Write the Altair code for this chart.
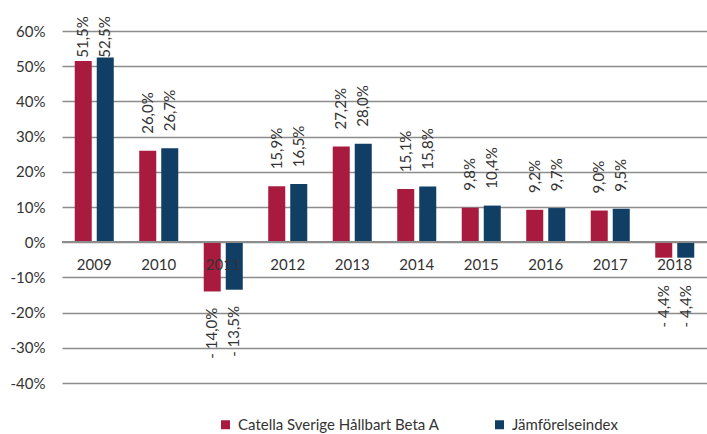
import altair as alt
import pandas as pd

years = ["2009", "2010", "2011", "2012", "2013", "2014", "2015", "2016", "2017", "2018"]
fund = [51.5, 26.0, -14.0, 15.9, 27.2, 15.1, 9.8, 9.2, 9.0, -4.4]
index = [52.5, 26.7, -13.5, 16.5, 28.0, 15.8, 10.4, 9.7, 9.5, -4.4]
series = ["Catella Sverige Hållbart Beta A", "Jämförelseindex"]
colors = ["#A91B3E", "#103E64"]
ytick_values = [-40, -30, -20, -10, 0, 10, 20, 30, 40, 50, 60]

def fmt(v):
    s = f"{abs(v):.1f}%".replace(".", ",")
    return ("- " + s) if v < 0 else s

rows = []
for i, y in enumerate(years):
    rows.append({"year": y, "series": series[0], "value": fund[i], "label": fmt(fund[i])})
    rows.append({"year": y, "series": series[1], "value": index[i], "label": fmt(index[i])})
df = pd.DataFrame(rows)
ydf = pd.DataFrame({"year": years})

FONT = "Lato"
TXT = "#333333"

xenc = alt.X("year:N", sort=years, axis=None,
             scale=alt.Scale(paddingInner=0.395, paddingOuter=0.1975))
xoff = alt.XOffset("series:N", sort=series, scale=alt.Scale(paddingInner=0.227, paddingOuter=0))
yscale = alt.Scale(domain=[-40, 60], nice=False)

def yaxis():
    return alt.Axis(values=ytick_values, labelExpr="datum.value + '%'",
                    title=None, domain=False, ticks=False, labelPadding=17,
                    labelOverlap=False, grid=True, tickCount=11,
                    labelFont=FONT, labelFontSize=15, labelColor=TXT,
                    gridColor="#8C8C8C", gridWidth=1.6)

base = alt.Chart(df)

bars = base.mark_bar().encode(
    x=xenc,
    xOffset=xoff,
    y=alt.Y("value:Q", scale=yscale, axis=yaxis()),
    color=alt.Color("series:N", sort=series,
                    scale=alt.Scale(domain=series, range=colors),
                    legend=alt.Legend(title=None, orient="none", direction="horizontal",
                                      legendX=156, legendY=386, symbolType="square",
                                      symbolSize=81, symbolStrokeWidth=0, labelFont=FONT,
                                      labelFontSize=15, labelColor=TXT, columnPadding=52,
                                      labelOffset=5, padding=0, labelLimit=400)),
)

pos_labels = base.transform_filter("datum.value >= 0").transform_calculate(
    ypos="min(datum.value + 4.8, 52.4)"
).mark_text(angle=270, align="left", baseline="middle", font=FONT, fontSize=15, color=TXT).encode(
    x=xenc, xOffset=xoff, y=alt.Y("ypos:Q", scale=yscale, axis=yaxis()), text="label:N"
)

neg_labels = base.transform_filter("datum.value < 0").transform_calculate(
    ypos="min(datum.value - 4.6, -12.2)"
).mark_text(angle=270, align="right", baseline="middle", font=FONT, fontSize=15, color=TXT).encode(
    x=xenc, xOffset=xoff, y=alt.Y("ypos:Q", scale=yscale, axis=yaxis()), text="label:N"
)

zero = alt.Chart(ydf).mark_rule(color="#8C8C8C", strokeWidth=1.6).encode(
    y=alt.Y("z:Q", scale=yscale, axis=yaxis())
).transform_calculate(z="0")

year_labels = alt.Chart(ydf).mark_text(baseline="middle", dy=23, font=FONT, fontSize=15, color=TXT).encode(
    x=xenc, y=alt.Y("z:Q", scale=yscale, axis=yaxis()), text="year:N"
).transform_calculate(z="0")

chart = alt.layer(bars, zero, year_labels, pos_labels, neg_labels).properties(
    width=645, height=352,
    autosize=alt.AutoSizeParams(type="none"),
    padding={"left": 62, "top": 31, "right": 0, "bottom": 51},
).configure_view(stroke=None)

chart.save("out.html", embed_options={"renderer": "svg", "actions": False})
